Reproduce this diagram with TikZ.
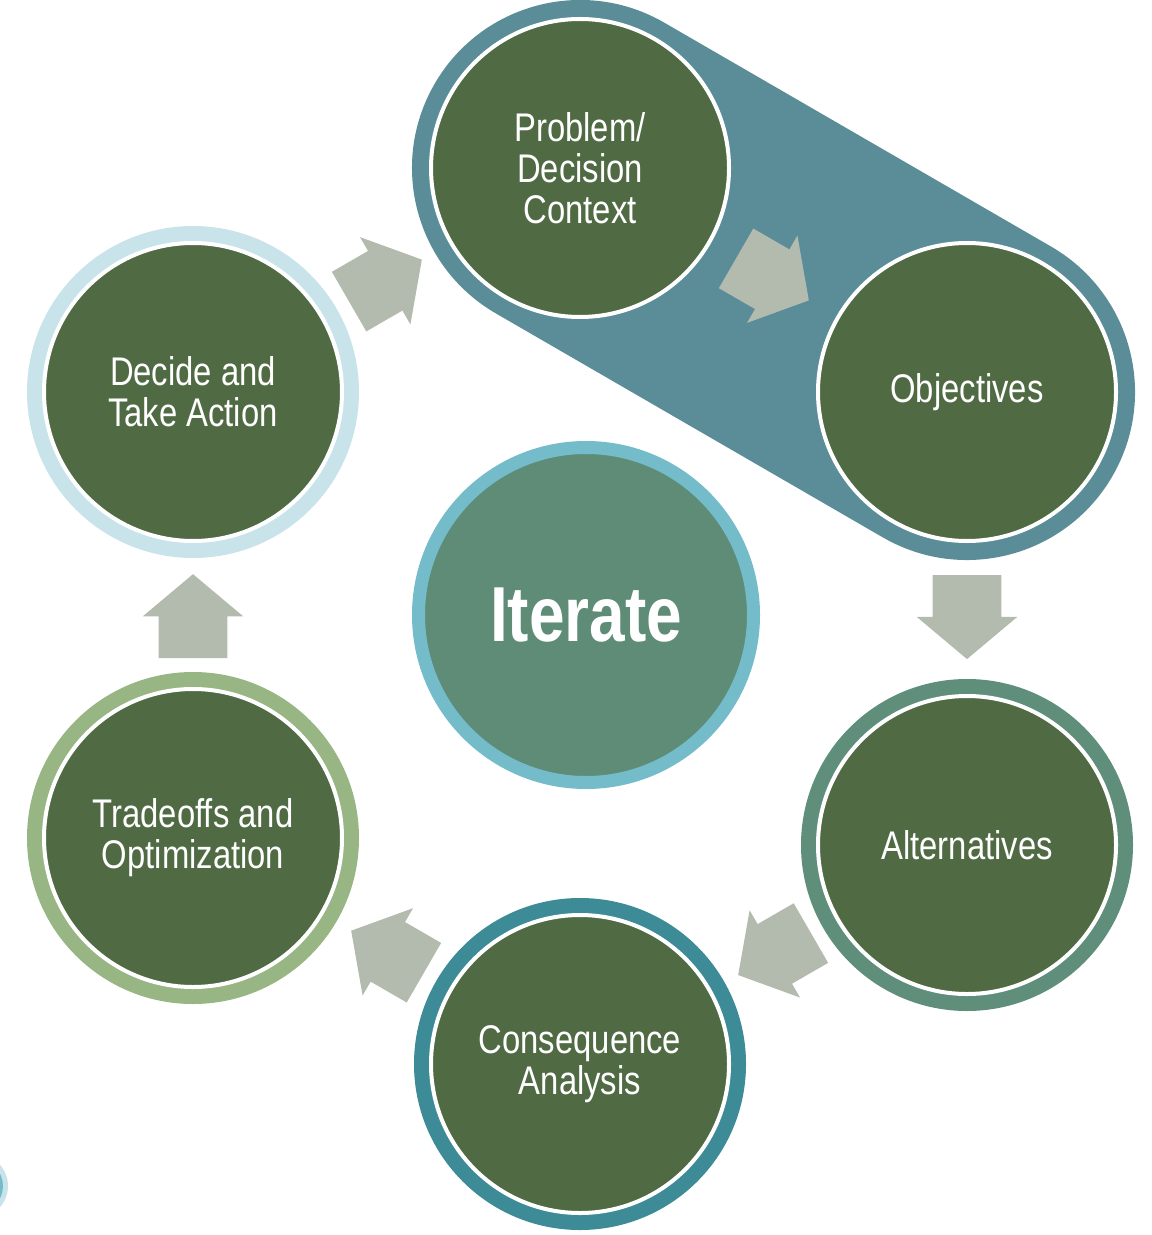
\documentclass[tikz,border=0pt]{standalone}
\usepackage{fontspec}
\setmainfont{Liberation Sans}[FakeStretch=0.82]
\usetikzlibrary{shapes.arrows,calc,backgrounds}
\definecolor{leaf}{RGB}{80,107,68}
\definecolor{capsule}{RGB}{91,141,153}
\definecolor{iterfill}{RGB}{94,140,119}
\definecolor{iterring}{RGB}{116,188,202}
\definecolor{decring}{RGB}{200,228,234}
\definecolor{traring}{RGB}{152,181,132}
\definecolor{altring}{RGB}{95,143,122}
\definecolor{conring}{RGB}{61,139,151}
\definecolor{flowgray}{RGB}{179,186,174}
\begin{document}
\begin{tikzpicture}[x=0.5pt, y=-0.5pt,
    main/.style = {circle, fill=leaf, draw=white, line width=2pt, minimum size=149pt,
      inner sep=0pt, text=white, align=center, font=\fontsize{20pt}{20.5pt}\selectfont,
      preaction={draw=#1, line width=17pt}},
    flow/.style = {single arrow, fill=flowgray, draw=none, inner xsep=0pt, inner ysep=17pt,
      minimum height=42pt, minimum width=50pt, single arrow head extend=8pt,
      single arrow tip angle=100}]
  \useasboundingbox (0,0) rectangle (1151,1235);
  % stages of the cycle
  \node[main=capsule] (prob) at (580,168) {Problem/\\Decision\\Context};
  \node[main=capsule] (obj) at (967,392) {Objectives};
  \node[main=altring] (alt) at (967,845) {Alternatives};
  \node[main=conring] (con) at (580,1064) {Consequence\\Analysis};
  \node[main=traring] (tra) at (193,838) {Tradeoffs and\\Optimization};
  \node[main=decring] (dec) at (193,392) {Decide and\\Take Action};
  \node[circle, fill=iterfill, draw=iterring, line width=6.5pt, minimum size=167.5pt,
    text=white, font=\bfseries\fontsize{39pt}{40pt}\selectfont] (it) at (586,615) {Iterate};
  \begin{scope}[on background layer]
    \draw[capsule, line width=168pt, line cap=round] (prob.center) -- (obj.center);
  \end{scope}
  % arrows between stages
  \node[flow, rotate=-30] (a1) at ($(prob)!0.465!(obj)$) {};
  \node[flow, rotate=-90] (a2) at ($(obj)!0.465!(alt)$) {};
  \node[flow, rotate=-150] (a3) at ($(alt)!0.465!(con)$) {};
  \node[flow, rotate=150] (a4) at ($(con)!0.465!(tra)$) {};
  \node[flow, rotate=90] (a5) at ($(tra)!0.465!(dec)$) {};
  \node[flow, rotate=30] (a6) at ($(dec)!0.465!(prob)$) {};
  % cut-off mark at the lower left
  \fill[decring] (-24,1186) circle (16pt);
  \fill[iterring] (-24,1186) circle (13.5pt);
\end{tikzpicture}
\end{document}
